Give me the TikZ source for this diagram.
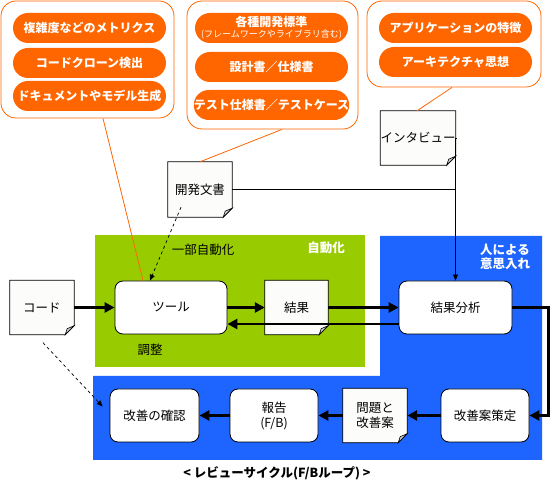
\documentclass[tikz,border=0pt]{standalone}
\usepackage{fontspec}
\setmainfont{Noto Sans CJK JP}
\usetikzlibrary{arrows.meta,calc}
\definecolor{orng}{RGB}{255,102,0}
\definecolor{grn}{RGB}{153,204,0}
\definecolor{blu}{RGB}{30,100,255}
\definecolor{docfill}{RGB}{252,252,250}
\pgfdeclarelayer{regions}\pgfdeclarelayer{docs}\pgfsetlayers{regions,docs,main}
\newcommand{\docshape}[1]{%
  \filldraw[fill=docfill,draw=black,line width=0.8pt] (#1.north west) -- (#1.north east) -- ($(#1.south east)+(0,-9)$) -- ($(#1.south east)+(-9,0)$) -- (#1.south west) -- cycle;
  \filldraw[fill=gray!35,draw=black,line width=0.6pt] ($(#1.south east)+(0,-9)$) -- ($(#1.south east)+(-7,-6)$) -- ($(#1.south east)+(-9,0)$) -- cycle;}
\tikzset{
  box/.style={draw=black,line width=0.8pt,fill=white,rounded corners=8pt,align=center,inner sep=0pt,font=\fontsize{12.5}{15}\selectfont},
  docbox/.style={inner sep=0pt,align=center,font=\fontsize{12.5}{15}\selectfont},
  pill/.style={fill=orng,rounded corners=15pt,text=white,inner sep=0pt,minimum width=153pt,minimum height=30pt,align=center,font=\bfseries\fontsize{12}{14}\selectfont},
  callout/.style={draw=orng,line width=0.8pt,fill=white,rounded corners=15pt,inner sep=0pt},
  tail/.style={draw=orng,line width=0.8pt},
  fat/.style={line width=2.6pt,-{Triangle[length=10pt,width=10pt]}},
  thinline/.style={line width=0.8pt},
  thinarrow/.style={line width=0.8pt,-{Triangle[length=6pt,width=5pt]}},
  dasharrow/.style={dashed,line width=0.7pt,-{Triangle[length=6pt,width=5pt]}},
  lbl/.style={inner sep=0pt,align=center,font=\fontsize{12.5}{14}\selectfont},
  wlbl/.style={inner sep=0pt,align=center,text=white,font=\bfseries\fontsize{12.5}{14}\selectfont}
}
\begin{document}
\begin{tikzpicture}[x=1pt,y=-1pt]
\useasboundingbox (0,0) rectangle (550,489);
\begin{pgfonlayer}{regions}
  \fill[grn] (95,235) rectangle (365,367);
  \fill[blu] (380,236) -- (542,236) -- (542,460) -- (93,460) -- (93,376) -- (380,376) -- cycle;
\end{pgfonlayer}

% callouts
\node[callout,minimum width=173pt,minimum height=117pt] (c1) at (87.5,59.5) {};
\node[callout,minimum width=171pt,minimum height=128pt] (c2) at (272.5,65) {};
\node[callout,minimum width=174pt,minimum height=86pt] (c3) at (454,44) {};

\node[pill] (p11) at (89.5,28) {複雑度などのメトリクス};
\node[pill] (p12) at (89.5,63) {コードクローン検出};
\node[pill] (p13) at (89.5,96) {ドキュメントやモデル生成};
\node[pill] (p21) at (271.5,28) {各種開発標準\\[-3pt]{\mdseries\fontsize{9}{10}\selectfont (フレームワークやライブラリ含む)}};
\node[pill] (p22) at (271.5,67) {設計書／仕様書};
\node[pill] (p23) at (271.5,105) {テスト仕様書／テストケース};
\node[pill] (p31) at (455.5,28) {アプリケーションの特徴};
\node[pill] (p32) at (455.5,62) {アーキテクチャ思想};

% main nodes
\node[docbox,minimum width=64pt,minimum height=54pt] (code) at (42,307.5) {コード};
\node[box,minimum width=112pt,minimum height=53pt] (tool) at (171,307.5) {ツール};
\node[docbox,minimum width=63pt,minimum height=54pt] (kekka) at (296.5,307.5) {結果};
\node[box,minimum width=113pt,minimum height=53pt] (bunseki) at (455.5,307.5) {結果分析};
\node[box,minimum width=89pt,minimum height=53pt] (kakunin) at (154.5,415.5) {改善の確認};
\node[box,minimum width=88pt,minimum height=53pt] (houkoku) at (274,415.5) {報告\\(F/B)};
\node[docbox,minimum width=64pt,minimum height=54pt] (mondai) at (375,415.5) {問題と\\改善案};
\node[box,minimum width=88pt,minimum height=53pt] (sakutei) at (485,415.5) {改善案策定};
\node[docbox,minimum width=64pt,minimum height=55pt] (kaihatsu) at (200,189.5) {開発文書};
\node[docbox,minimum width=72pt,minimum height=54pt] (interview) at (418,138) {インタビュー};

\begin{pgfonlayer}{docs}
  \docshape{code}\docshape{kekka}\docshape{mondai}\docshape{kaihatsu}\docshape{interview}
\end{pgfonlayer}

% labels
\node[lbl] (l1) at (203,250) {一部自動化};
\node[wlbl] (l2) at (326,248) {自動化};
\node[wlbl] (l3) at (505,257) {人による\\意思入れ};
\node[lbl] (l4) at (150,350) {調整};
\node[inner sep=0pt,font=\bfseries\fontsize{12.5}{14}\selectfont] (cap) at (277,473) {< レビューサイクル(F/Bループ) >};

% tails
\draw[tail] ($(c1.south)+(15.5,0)$) -- ($(tool.north)+(-28,0)$);
\draw[tail] ($(c2.south)+(9.5,0)$) -- (kaihatsu.north);
\draw[tail] ($(c3.south)+(-2,0)$) -- ($(interview.north)+(-1,0)$);

% connectors
\draw[thinarrow] (interview.east) -| (bunseki.north);
\draw[thinline] (kaihatsu.east) -- (kaihatsu.east -| bunseki.north);
\draw[dasharrow] ($(kaihatsu.south)+(-19,-10)$) -- ($(tool.north)+(-21,0)$);
\draw[dasharrow] ($(code.south)+(1,8)$) -- ($(kakunin.west)+(-7,-9)$);

\draw[fat] (code.east) -- (tool.west);
\draw[fat] (tool.east) -- (kekka.west);
\draw[fat] (kekka.east) -- (bunseki.west);
\draw[fat] ($(bunseki.west)+(0,16.5)$) -- ($(tool.east)+(0,16.5)$);
\draw[fat] (bunseki.east) -- ++(36,0) |- (sakutei.east);
\draw[fat] (sakutei.west) -- (mondai.east);
\draw[fat] (mondai.west) -- (houkoku.east);
\draw[fat] (houkoku.west) -- (kakunin.east);
\end{tikzpicture}
\end{document}
